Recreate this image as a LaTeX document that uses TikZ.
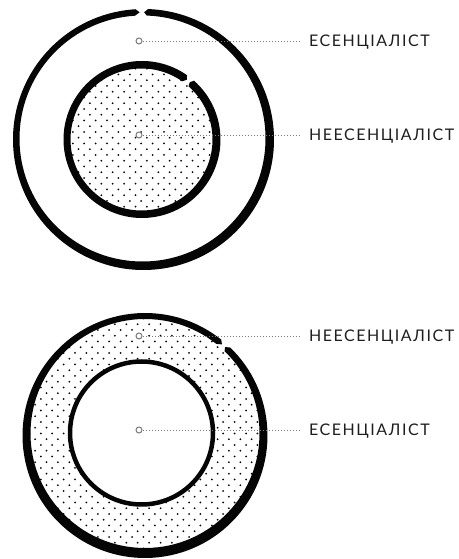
\documentclass[tikz,border=0pt]{standalone}
\usepackage{fontspec}
\setmainfont{Lato}[LetterSpace=9.5]
\usetikzlibrary{calc}
\definecolor{ink}{HTML}{050505}
\definecolor{txt}{HTML}{1E1E1E}
\definecolor{lead}{HTML}{7A7A7A}
% brush stroke: #1 inner centre, #2 inner radius, #3 outer centre, #4 outer radius,
% #5 start angle, #6 end angle (clockwise, #5 > #6), #7 start tip, #8 end tip
\newcommand\brushstroke[8]{%
  \fill[ink] ($(#1)+(#5:#2)$) arc[start angle=#5,end angle=#6,radius=#2]
    -- ($(#1)!0.5!(#3)+(#8:{(#2+#4)/2})$)
    -- ($(#3)+(#6:#4)$) arc[start angle=#6,end angle=#5,radius=#4]
    -- ($(#1)!0.5!(#3)+(#7:{(#2+#4)/2})$) -- cycle;}
\tikzset{
  marker/.style={circle,draw=lead,fill=white,line width=1pt,inner sep=0pt,minimum size=6pt},
  leader/.style={draw=lead,line width=0.8pt,dash pattern=on 0.8pt off 2.2pt,shorten >=9pt,shorten <=0.5pt},
  lbl/.style={anchor=base west,inner sep=0pt,text=txt,font=\fontsize{16}{19}\selectfont},
  dotfill/.style={fill=ink}
}
\begin{document}
\begin{tikzpicture}[x=1pt,y=1pt]
\useasboundingbox (0,0) rectangle (458,559);
% ---------- top figure ----------
\coordinate (TOc) at (142.5,420.5);
\coordinate (TOo) at (143.5,419.5);
\coordinate (TIc) at (141.5,419.5);
\coordinate (TIo) at (142,419.5);
% dots inside inner circle
\begin{scope}
  \clip (TIc) circle (72);
  \foreach \j in {0,...,30}{
    \foreach \i in {0,...,16}{
      \fill[dotfill] ({50+\i*11.4+mod(\j,2)*5.7},{335+\j*5.75}) circle (1.0);
    }
  }
\end{scope}
% outer brush ring (gap at top)
\brushstroke{TOc}{123}{TOo}{130.5}{88}{-266.5}{89.5}{-268.5}
% inner brush ring (gap upper right)
\brushstroke{TIc}{71}{TIo}{78.5}{48.5}{-305}{50}{-307}
% ---------- bottom figure ----------
\coordinate (BOc) at (145,125.5);
\coordinate (BOo) at (145,123.5);
\coordinate (BIc) at (141.5,126);
\begin{scope}[even odd rule]
  \clip (BOc) circle (116) (BIc) circle (72);
  \foreach \j in {0,...,44}{
    \foreach \i in {0,...,24}{
      \fill[dotfill] ({18+\i*11.4+mod(\j,2)*5.7},{-1+\j*5.75}) circle (1.0);
    }
  }
\end{scope}
\brushstroke{BOc}{114.5}{BOo}{122.5}{46}{-308.5}{47.5}{-310.5}
\draw[ink,line width=4.5pt] (BIc) circle (71.5);
% ---------- markers, leaders and labels ----------
\node[marker] (m1) at (139,518) {};
\node[marker] (m2) at (139,424) {};
\node[marker] (m3) at (139,223) {};
\node[marker] (m4) at (139,129) {};
\node[lbl] (l1) at (309,512.2) {ЕСЕНЦІАЛІСТ};
\node[lbl] (l2) at (309,418.2) {НЕЕСЕНЦІАЛІСТ};
\node[lbl] (l3) at (309,217.2) {НЕЕСЕНЦІАЛІСТ};
\node[lbl] (l4) at (309,123.2) {ЕСЕНЦІАЛІСТ};
\draw[leader] (m1.east) -- (m1 -| l1.west);
\draw[leader] (m2.east) -- (m2 -| l2.west);
\draw[leader] (m3.east) -- (m3 -| l3.west);
\draw[leader] (m4.east) -- (m4 -| l4.west);
\end{tikzpicture}
\end{document}
